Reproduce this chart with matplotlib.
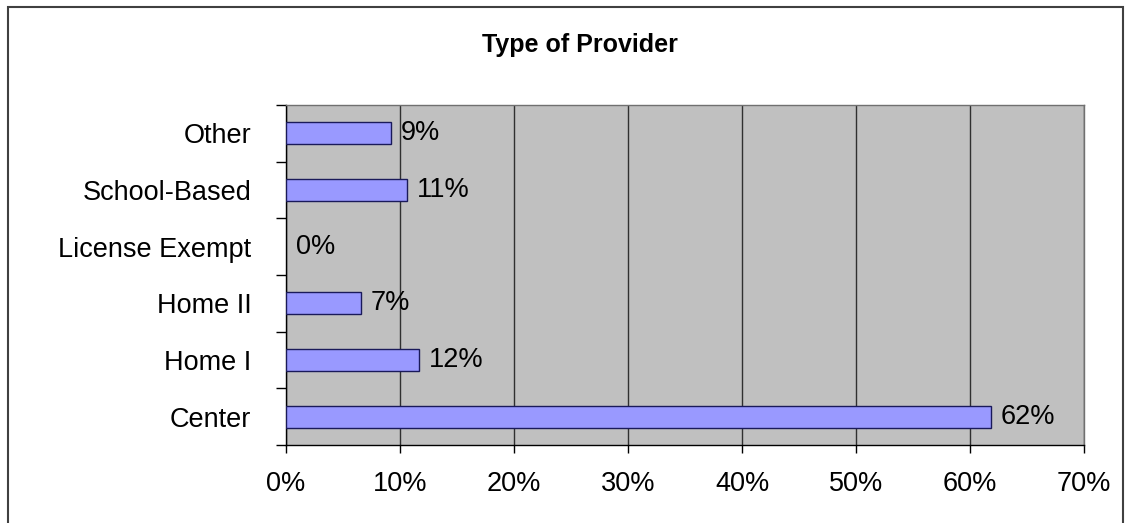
import matplotlib
matplotlib.use("Agg")
import matplotlib.pyplot as plt
from matplotlib.patches import Rectangle
import numpy as np

# datos
categorias = ["Center", "Home I", "Home II", "License Exempt", "School-Based", "Other"]
porcentajes = [61.8, 11.7, 6.6, 0.0, 10.6, 9.2]
ticks_x = [0, 10, 20, 30, 40, 50, 60, 70]
titulo = "Type of Provider"

plt.rcParams["font.family"] = ["Liberation Sans", "DejaVu Sans"]

W, H = 1129, 523
fig = plt.figure(figsize=(W / 100, H / 100), dpi=100)
ax = fig.add_axes([286 / W, 1 - 445 / H, (1084 - 286) / W, (445 - 105) / H])
ax.set_facecolor("#C0C0C0")

y = np.arange(len(categorias))
# sin borde cuando el valor es cero
bordes = [1 if v > 0 else 0 for v in porcentajes]
ax.barh(y, porcentajes, height=0.39, color="#9999FF", edgecolor="#1a1a5a",
        linewidth=bordes, zorder=3)

for yi, v in zip(y, porcentajes):
    ax.annotate(f"{v:.0f}%", xy=(v, yi), xytext=(7, 0), textcoords="offset points",
                va="center", ha="left", fontsize=19.5, zorder=4)

ax.set_xlim(0, 70)
ax.set_ylim(-0.5, len(categorias) - 0.5)
ax.set_xticks(ticks_x)
ax.set_xticklabels([f"{t}%" for t in ticks_x])
ax.set_yticks(y)
ax.set_yticklabels(categorias)
ax.set_yticks(np.arange(-0.5, len(categorias), 1), minor=True)

ax.tick_params(axis="x", length=6, width=1, pad=13, labelsize=19.5, direction="out")
ax.tick_params(axis="y", which="major", length=0, pad=25, labelsize=19.5)
ax.tick_params(axis="y", which="minor", length=7, width=1, direction="out")

ax.grid(axis="x", color="#303030", linewidth=1, zorder=1)
ax.set_axisbelow(True)

for s in ["left", "bottom"]:
    ax.spines[s].set_color("black")
    ax.spines[s].set_linewidth(1)
for s in ["top", "right"]:
    ax.spines[s].set_color("#707070")
    ax.spines[s].set_linewidth(1)

fig.text(580 / W, 1 - 45 / H, titulo, ha="center", va="center",
         fontsize=18, fontweight="bold")

# borde del gráfico
fig.patches.append(Rectangle((8 / W, -0.1), (1123 - 8) / W, 1.1 - 7 / H,
                             transform=fig.transFigure, fill=False,
                             edgecolor="#404040", linewidth=1.5))

fig.savefig("out.png", dpi=100)
